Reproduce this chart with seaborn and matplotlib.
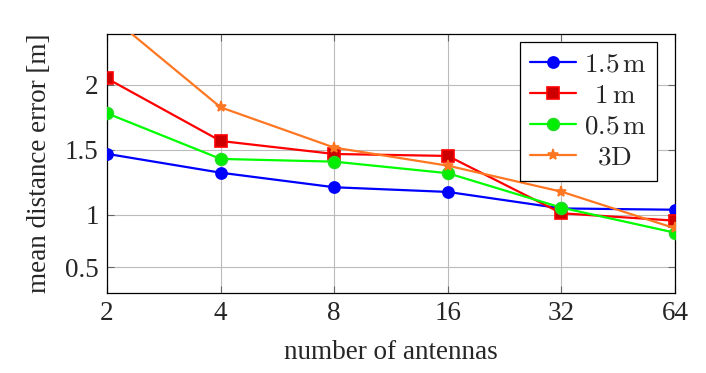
import numpy as np
import pandas as pd
import matplotlib
matplotlib.use("Agg")
import matplotlib.pyplot as plt
import seaborn as sns

antennas = [2, 4, 8, 16, 32, 64]
err_15m = [1.47, 1.325, 1.213, 1.177, 1.05, 1.04]
err_1m = [2.05, 1.569, 1.469, 1.454, 1.013, 0.945]
err_05m = [1.782, 1.431, 1.41, 1.321, 1.056, 0.83]
err_3d = [2.55, 1.828, 1.518, 1.379, 1.179, 0.872]
labels = [r"$1.5\,\mathrm{m}$", r"$\;\,1\,\mathrm{m}$", r"$0.5\,\mathrm{m}$", r"$\;\;\mathrm{3D}$"]
xticks = [2, 4, 8, 16, 32, 64]
yticks = [0.5, 1, 1.5, 2]

sns.set_style("white")
plt.rcParams["font.family"] = ["Liberation Serif", "DejaVu Serif"]
plt.rcParams["mathtext.fontset"] = "cm"

fig = plt.figure(figsize=(7.06, 3.73), dpi=100)
ax = fig.add_axes([0.1516, 0.2145, 0.8046, 0.6943])

K = 0.805
def fwd(v):
    v = np.asarray(v, dtype=float)
    return np.where(v >= 1, v, 1 - (1 - v) * K)
def inv(y):
    y = np.asarray(y, dtype=float)
    return np.where(y >= 1, y, 1 - (1 - y) / K)

ax.set_xscale("log", base=2)
ax.set_yscale("function", functions=(fwd, inv))

series = [
    (err_15m, "#0000ff", "o", "#0000ff", "#0000ff", 8),
    (err_1m, "#ff0000", "s", "#cc0000", "#ff0000", 8.5),
    (err_05m, "#00ff00", "o", "#00ee00", "#22dd22", 8.5),
    (err_3d, "#ff7722", "*", "#ff7722", "#ff7722", 8),
]
for (vals, col, mk, fc, ec, ms), lab in zip(series, labels):
    df = pd.DataFrame({"x": antennas, "y": vals})
    sns.lineplot(data=df, x="x", y="y", ax=ax, color=col, marker=mk,
                 markerfacecolor=fc, markeredgecolor=ec, markersize=ms,
                 markeredgewidth=1.2, linewidth=1.6, label=lab, zorder=3)

ax.set_xlim(2, 64)
ax.set_ylim(0.254, 2.392)
ax.set_xticks(xticks)
ax.set_xticklabels([str(t) for t in xticks])
ax.xaxis.set_minor_locator(matplotlib.ticker.NullLocator())
ax.set_yticks(yticks)
ax.set_yticklabels(["0.5", "1", "1.5", "2"])
ax.yaxis.set_minor_locator(matplotlib.ticker.NullLocator())
ax.grid(True, color="#bbbbbb", linewidth=0.8)
ax.set_axisbelow(True)
ax.tick_params(direction="in", length=5, color="#666666", labelsize=19.5,
               top=True, right=True, bottom=True, left=True, pad=6)
for s in ax.spines.values():
    s.set_color("black")
    s.set_linewidth(0.9)

ax.set_xlabel("number of antennas", fontsize=19.5, labelpad=10)
ax.set_ylabel("mean distance error [m]", fontsize=19.5, labelpad=9)

leg = ax.legend(loc="upper right", bbox_to_anchor=(0.968, 0.968), borderaxespad=0,
                fontsize=19.5, frameon=True, fancybox=False, edgecolor="black",
                framealpha=1, handlelength=1.7, labelspacing=0.22, borderpad=0.38,
                handletextpad=0.3)
leg.get_frame().set_linewidth(0.9)

fig.savefig("out.png", dpi=100)
